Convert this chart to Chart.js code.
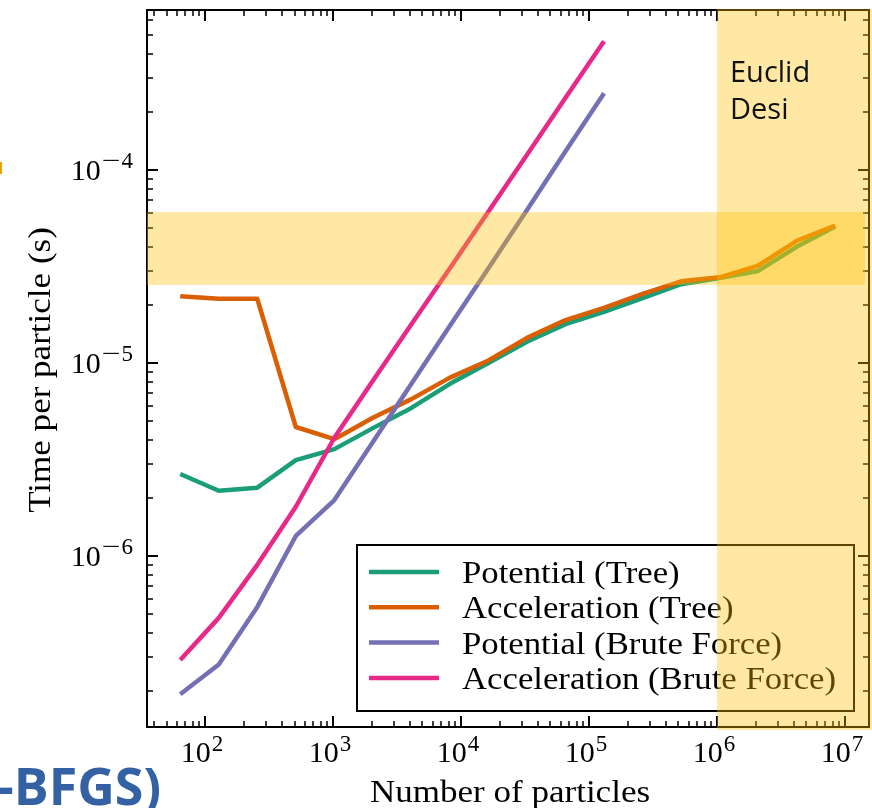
<!DOCTYPE html>
<html>
<head>
<meta charset="utf-8">
<title>Time per particle</title>
<script src="https://cdn.jsdelivr.net/npm/chart.js@4.4.0/dist/chart.umd.min.js"></script>
<style>
  html, body { margin: 0; padding: 0; background: #ffffff; }
  #wrap { position: relative; width: 872px; height: 808px; overflow: hidden; }
  #chart { position: absolute; left: 0; top: 0; }
</style>
</head>
<body>
<div id="wrap">
  <canvas id="chart" width="872" height="808"></canvas>
</div>
<script>
// Numero di particelle: potenze di 2 da 2^6 a 2^23
const particleCounts = [64, 128, 256, 512, 1024, 2048, 4096, 8192, 16384, 32768,
  65536, 131072, 262144, 524288, 1048576, 2097152, 4194304, 8388608];

// Tempo per particella (s)
const potentialTree = [2.66e-6, 2.18e-6, 2.26e-6, 3.14e-6, 3.58e-6, 4.6e-6, 5.85e-6, 7.8e-6,
  1.0e-5, 1.29e-5, 1.59e-5, 1.84e-5, 2.17e-5, 2.56e-5, 2.76e-5, 3.0e-5, 4.0e-5, 5.1e-5];
const accelerationTree = [2.22e-5, 2.15e-5, 2.15e-5, 4.66e-6, 4.03e-6, 5.2e-6, 6.5e-6, 8.4e-6,
  1.03e-5, 1.35e-5, 1.67e-5, 1.93e-5, 2.28e-5, 2.65e-5, 2.78e-5, 3.2e-5, 4.3e-5, 5.15e-5];
const potentialBrute = [1.92e-7, 2.74e-7, 5.45e-7, 1.27e-6, 1.95e-6, 3.9e-6, 7.8e-6, 1.56e-5,
  3.1e-5, 6.2e-5, 1.25e-4, 2.5e-4];
const accelerationBrute = [2.89e-7, 4.78e-7, 9.0e-7, 1.8e-6, 4.1e-6, 8.1e-6, 1.59e-5, 3.1e-5,
  6.1e-5, 1.2e-4, 2.37e-4, 4.65e-4];

const seriesLabels = ["Potential (Tree)", "Acceleration (Tree)", "Potential (Brute Force)", "Acceleration (Brute Force)"];
const seriesColors = ["#1b9e77", "#d95f02", "#7570b3", "#e7298a"];

// Limiti degli assi e bande evidenziate
const xLimits = [35.2, 1.54e7];
const yLimits = [1.30e-7, 6.75e-4];
const xTickExponents = [2, 3, 4, 5, 6, 7];
const yTickExponents = [-6, -5, -4];
const targetBand = [2.54e-5, 6.05e-5];
const surveyStart = 1e6;
const surveyNames = ["Euclid", "Desi"];

const SERIF = '"Liberation Serif", "Times New Roman", serif';
const STRETCH = 1.13;

function toPoints(values) {
  return values.map((v, i) => ({ x: particleCounts[i], y: v }));
}

// Testo allargato orizzontalmente per imitare Computer Modern
function wideText(ctx, text, x, y, align, rotate, stretch = STRETCH) {
  ctx.save();
  ctx.translate(x, y);
  if (rotate) ctx.rotate(-Math.PI / 2);
  ctx.scale(stretch, 1);
  ctx.textAlign = align;
  ctx.fillText(text, 0, 0);
  ctx.restore();
}

// Disegna 10^n con l'esponente in apice (meno largo come in TeX)
function drawPower(ctx, exponent, x, baseline, align, supRaise) {
  const digits = String(Math.abs(exponent));
  ctx.font = "30px " + SERIF;
  const wBase = ctx.measureText("10").width;
  ctx.font = "23px " + SERIF;
  const minusW = exponent < 0 ? ctx.measureText("\u2212").width * 1.45 + 1 : 0;
  const wDigits = ctx.measureText(digits).width;
  const total = wBase + 1 + minusW + wDigits;
  const left = align === "right" ? x - total : x - total / 2;
  ctx.textAlign = "left";
  ctx.font = "30px " + SERIF;
  ctx.fillText("10", left, baseline);
  ctx.font = "23px " + SERIF;
  if (exponent < 0) wideText(ctx, "\u2212", left + wBase + 1, baseline - supRaise, "left", false, 1.45);
  ctx.textAlign = "left";
  ctx.fillText(digits, left + wBase + 1 + minusW, baseline - supRaise);
}

function logTicks(min, max) {
  const ticks = [];
  for (let d = Math.floor(Math.log10(min)); d <= Math.ceil(Math.log10(max)); d++) {
    for (let m = 1; m <= 9; m++) {
      const v = m * Math.pow(10, d);
      if (v >= min && v <= max) ticks.push({ value: v, major: m === 1 });
    }
  }
  return ticks;
}

// Assi in stile matplotlib: bordi, tacche interne e etichette
const axesPlugin = {
  id: "mplAxes",
  afterDatasetsDraw(chart) {
    const { ctx, chartArea: a, scales } = chart;
    ctx.save();
    ctx.strokeStyle = "#000";
    ctx.fillStyle = "#000";

    logTicks(xLimits[0], xLimits[1]).forEach((t) => {
      const px = Math.round(scales.x.getPixelForValue(t.value));
      const len = t.major ? 11 : 6;
      ctx.lineWidth = t.major ? 2 : 1.5;
      ctx.beginPath();
      ctx.moveTo(px, a.bottom); ctx.lineTo(px, a.bottom - len);
      ctx.moveTo(px, a.top); ctx.lineTo(px, a.top + len);
      ctx.stroke();
    });
    logTicks(yLimits[0], yLimits[1]).forEach((t) => {
      const py = Math.round(scales.y.getPixelForValue(t.value));
      const len = t.major ? 11 : 6;
      ctx.lineWidth = t.major ? 2 : 1.5;
      ctx.beginPath();
      ctx.moveTo(a.left, py); ctx.lineTo(a.left + len, py);
      ctx.moveTo(a.right, py); ctx.lineTo(a.right - len, py);
      ctx.stroke();
    });

    ctx.lineWidth = 2;
    ctx.strokeRect(a.left, a.top, a.right - a.left, a.bottom - a.top);

    xTickExponents.forEach((e) => {
      const px = scales.x.getPixelForValue(Math.pow(10, e));
      drawPower(ctx, e, px - 3, a.bottom + 35, "center", 11);
    });
    yTickExponents.forEach((e) => {
      const py = scales.y.getPixelForValue(Math.pow(10, e));
      drawPower(ctx, e, a.left - 14, py + 10, "right", 12);
    });

    ctx.font = "31px " + SERIF;
    wideText(ctx, "Number of particles", (a.left + a.right) / 2 + 2, 802, "center", false);
    wideText(ctx, "Time per particle (s)", 50, 370, "center", true);

    // Legenda dentro l'area del grafico
    const box = { left: 357, top: 545, right: 854, bottom: 711 };
    ctx.fillStyle = "#fff";
    ctx.fillRect(box.left, box.top, box.right - box.left, box.bottom - box.top);
    ctx.lineWidth = 2;
    ctx.strokeRect(box.left, box.top, box.right - box.left, box.bottom - box.top);
    chart.data.datasets.forEach((ds, i) => {
      const y = 572 + i * 35.3;
      ctx.strokeStyle = ds.borderColor;
      ctx.lineWidth = 4.5;
      ctx.beginPath();
      ctx.moveTo(369, y); ctx.lineTo(439, y);
      ctx.stroke();
      ctx.fillStyle = "#000";
      ctx.font = "31px " + SERIF;
      wideText(ctx, ds.label, 462, y + 11, "left", false, 1.12);
    });
    ctx.restore();
  },
  afterDraw(chart) {
    const { ctx, chartArea: a, scales } = chart;
    ctx.save();
    ctx.fillStyle = "rgba(255, 192, 0, 0.36)";
    const yTop = scales.y.getPixelForValue(targetBand[1]);
    const yBot = scales.y.getPixelForValue(targetBand[0]);
    ctx.fillRect(a.left, yTop, 865 - a.left, yBot - yTop);
    const xs = scales.x.getPixelForValue(surveyStart);
    ctx.fillRect(xs, a.top - 1, chart.width - xs, a.bottom - a.top + 4);

    ctx.fillStyle = "#111";
    ctx.font = '29px "Open Sans", sans-serif';
    ctx.textAlign = "left";
    surveyNames.forEach((name, i) => ctx.fillText(name, xs + 13, 82 + i * 37));

    // Resti della slide intorno al grafico
    ctx.fillStyle = "#3461a4";
    ctx.font = 'bold 52px "Open Sans", sans-serif';
    ctx.fillText("-BFGS)", -3, 805);
    ctx.fillStyle = "#f5a000";
    ctx.fillRect(0, 162, 2, 12);
    ctx.restore();
  },
};

function createChart() {
  const ctx = document.getElementById("chart").getContext("2d");
  const seriesValues = [potentialTree, accelerationTree, potentialBrute, accelerationBrute];

  new Chart(ctx, {
    type: "line",
    data: {
      datasets: seriesValues.map((values, i) => ({
        label: seriesLabels[i],
        data: toPoints(values),
        borderColor: seriesColors[i],
        backgroundColor: seriesColors[i],
        borderWidth: 4.5,
        pointRadius: 0,
        tension: 0,
        borderJoinStyle: "round",
        order: 4 - i,
      })),
    },
    options: {
      responsive: false,
      animation: false,
      events: [],
      layout: { padding: { left: 147, right: 3, top: 10, bottom: 81 } },
      plugins: { legend: { display: false }, tooltip: { enabled: false } },
      scales: {
        x: { type: "logarithmic", min: xLimits[0], max: xLimits[1], display: false },
        y: { type: "logarithmic", min: yLimits[0], max: yLimits[1], display: false },
      },
    },
    plugins: [axesPlugin],
  });
}

createChart();
</script>
</body>
</html>
